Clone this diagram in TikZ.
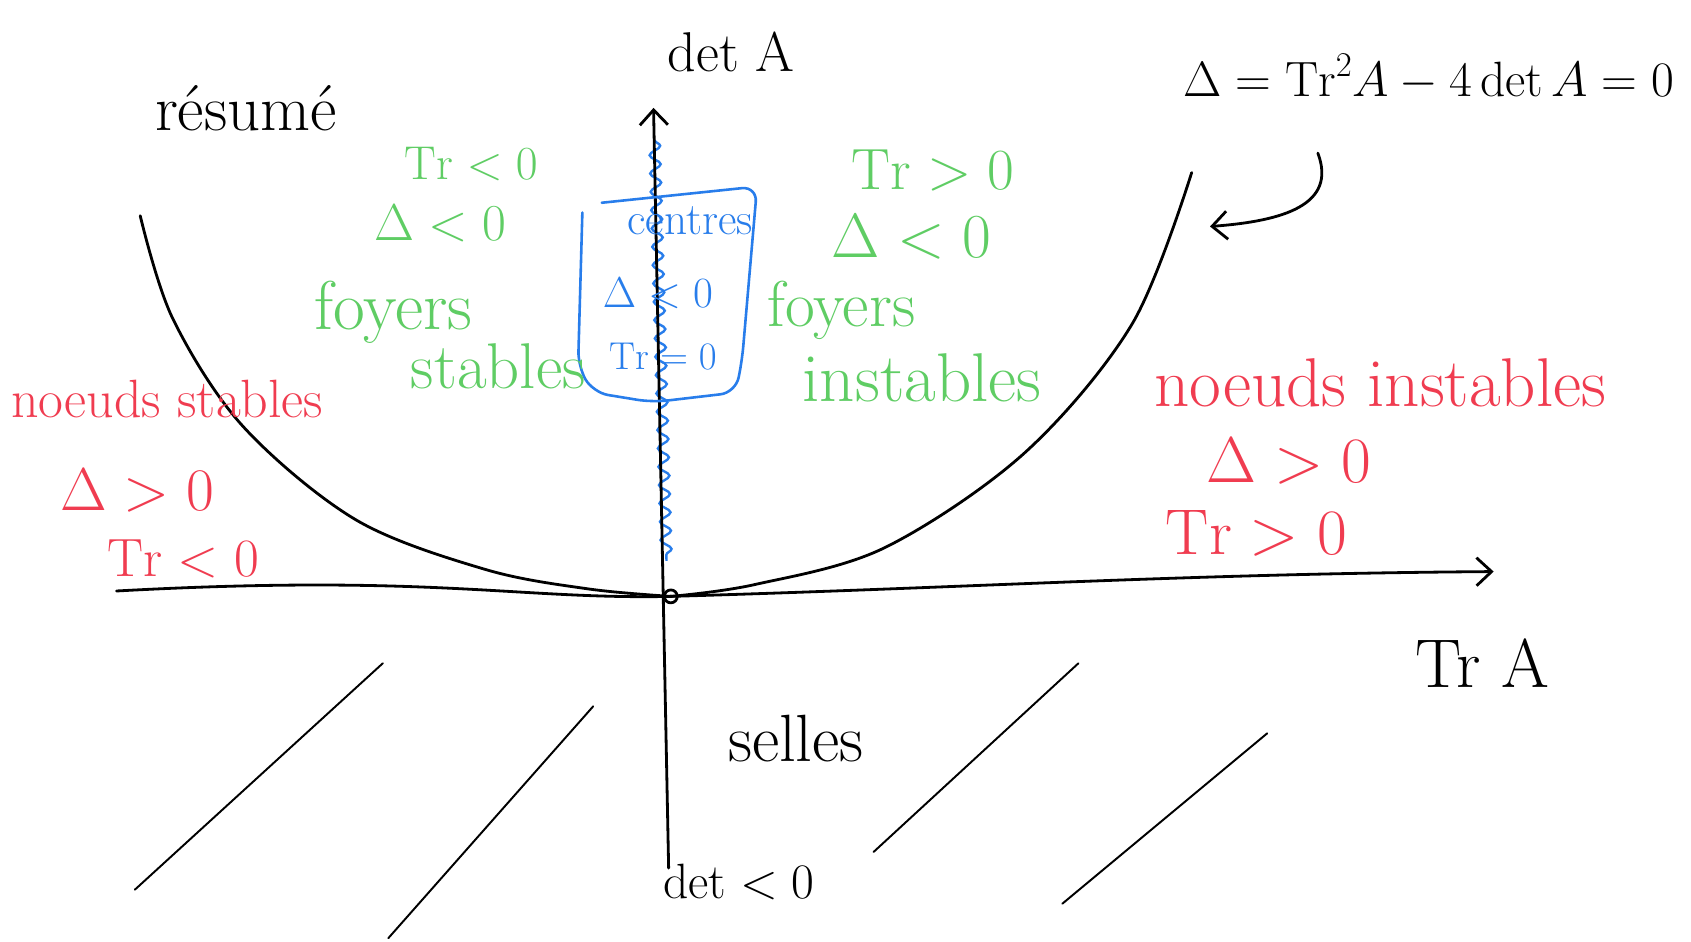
\RequirePackage{fix-cm}
\documentclass[tikz,border=0pt]{standalone}
\usepackage{fontspec}
\usetikzlibrary{arrows.meta,decorations.pathmorphing}
\definecolor{hgreen}{RGB}{95,205,100}
\definecolor{hred}{RGB}{240,60,80}
\definecolor{hblue}{RGB}{40,125,235}
\newcommand\fsz[1]{\fontsize{#1}{#1}\selectfont}
\begin{document}
\begin{tikzpicture}[x=1pt,y=-1pt,
  ink/.style={line width=2.6pt, line cap=round, line join=round},
  thinink/.style={line width=1.8pt, line cap=round},
  lbl/.style={inner sep=0pt},
  gl/.style={lbl, text=hgreen},
  rl/.style={lbl, text=hred},
  bl/.style={lbl, text=hblue},
  barb/.style={-{Straight Barb[length=14pt,width=26pt,line width=2.6pt]}}]
\useasboundingbox (0,0) rectangle (1568,873);
\fill[white] (0,0) rectangle (1568,873);

% coordinates
\coordinate (O) at (622,553);
\coordinate (ytop) at (606,100);
\coordinate (ybot) at (620,805);
\coordinate (xl) at (108,548);
\coordinate (xr) at (1385,530);
\coordinate (pl) at (130,200);
\coordinate (pr) at (1105,160);
\coordinate (ca1) at (1222,142);
\coordinate (ca2) at (1122,210);
\coordinate (sn1) at (607,130);
\coordinate (sn2) at (618,520);

% blue wavy line on the axis
\draw[hblue, line width=2.2pt, decorate, decoration={snake, amplitude=5pt, segment length=17pt}] (sn1) -- (sn2);

% axes
\draw[ink, barb] (ybot) -- (ytop);
\draw[ink, barb] (xl) .. controls (400,532) and (480,556) .. (O) .. controls (900,545) and (1100,532) .. (xr);
\draw[ink] (O) circle[radius=6pt];

% parabola
\draw[ink] plot[smooth, tension=0.55] coordinates {(pl) (160,295) (225,395) (330,482) (450,528) (545,546) (O)};
\draw[ink] plot[smooth, tension=0.55] coordinates {(O) (700,542) (820,508) (950,420) (1050,300) (pr)};

% curved arrow
\draw[ink, barb] (ca1) .. controls (1240,190) and (1190,205) .. (ca2);

% hatching (selles)
\draw[thinink] (125,825) -- (355,615);
\draw[thinink] (360,870) -- (550,655);
\draw[thinink] (810,790) -- (1000,615);
\draw[thinink] (985,838) -- (1175,680);

% blue box
\draw[hblue, line width=2.4pt, rounded corners=14pt, line cap=round]
  (540,197) -- (536,340) -- (550,364) -- (605,373) -- (682,364) -- (688,335) -- (702,173) -- (558,188);

% black labels
\node[lbl, font=\fsz{60}] (resume) at (228,100) {résumé};
\node[lbl, font=\fsz{52}] (detA) at (678,48) {det A};
\node[lbl, font=\fsz{46}] (formula) at (1325,72) {$\Delta=\mathrm{Tr}^{2}A-4\det A=0$};
\node[lbl, font=\fsz{64}] (TrA) at (1375,615) {Tr A};
\node[lbl, font=\fsz{62}] (selles) at (738,685) {selles};
\node[lbl, font=\fsz{46}] (detneg) at (685,818) {$\det<0$};

% green labels
\node[gl, font=\fsz{44}] (gTrL) at (437,152) {$\mathrm{Tr}<0$};
\node[gl, font=\fsz{48}] (gDL) at (408,207) {$\Delta<0$};
\node[gl, font=\fsz{64}] (foyL) at (365,290) {foyers};
\node[gl, font=\fsz{60}] (stabL) at (462,340) {stables};
\node[gl, font=\fsz{54}] (gTrR) at (865,158) {$\mathrm{Tr}>0$};
\node[gl, font=\fsz{58}] (gDR) at (845,220) {$\Delta<0$};
\node[gl, font=\fsz{60}] (foyR) at (780,288) {foyers};
\node[gl, font=\fsz{64}] (instR) at (855,350) {instables};

% blue labels
\node[bl, font=\fsz{42}] (cent) at (640,205) {centres};
\node[bl, font=\fsz{40}] (bD) at (610,272) {$\Delta<0$};
\node[bl, font=\fsz{36}] (bTr) at (615,330) {$\mathrm{Tr}=0$};

% red labels
\node[rl, font=\fsz{50}] (nsL) at (155,370) {noeuds stables};
\node[rl, font=\fsz{56}] (rDL) at (127,455) {$\Delta>0$};
\node[rl, font=\fsz{50}] (rTrL) at (170,518) {$\mathrm{Tr}<0$};
\node[rl, font=\fsz{64}] (nsR) at (1280,355) {noeuds instables};
\node[rl, font=\fsz{60}] (rDR) at (1195,428) {$\Delta>0$};
\node[rl, font=\fsz{60}] (rTrR) at (1165,495) {$\mathrm{Tr}>0$};
\end{tikzpicture}
\end{document}
